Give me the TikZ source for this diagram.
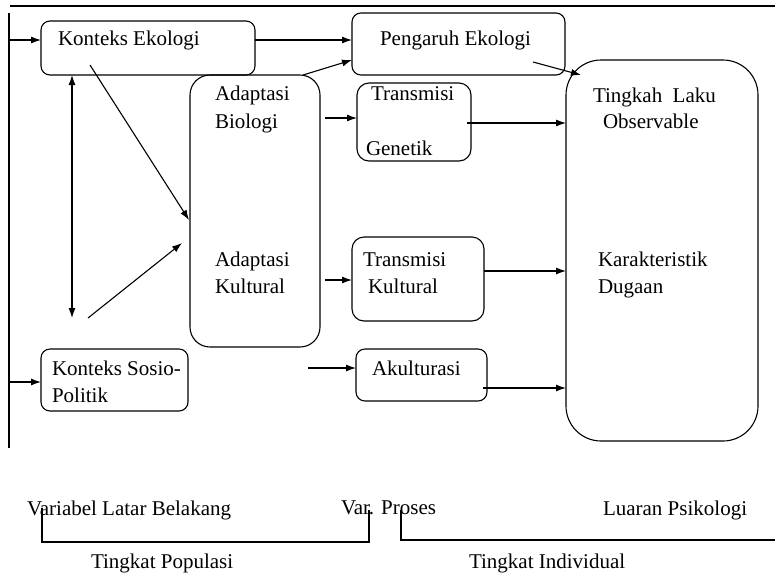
\documentclass[tikz,border=0pt]{standalone}
\usepackage{fontspec}
\setmainfont{Liberation Serif}
\usetikzlibrary{arrows.meta,calc}
\begin{document}
\begin{tikzpicture}[x=1pt,y=-1pt,
  every node/.style={font=\fontsize{21}{28}\selectfont, inner sep=0pt, outer sep=0pt},
  box/.style={draw, line width=1.1pt, rounded corners=#1, minimum width=0pt, minimum height=0pt},
  box/.default=9pt,
  txt/.style={anchor=base west},
  ln/.style={line width=1.1pt},
  arr/.style={line width=1.1pt, -{Latex[length=10pt,width=7pt]}},
  darr/.style={line width=1.1pt, {Latex[length=10pt,width=7pt]}-{Latex[length=10pt,width=7pt]}}]
\useasboundingbox (0,0) rectangle (775,574);
% boxes
\node[box, minimum width=214pt, minimum height=54pt] (ke) at (148,48) {};
\node[box, minimum width=213pt, minimum height=62pt] (pe) at (458.5,44) {};
\node[box=20pt, minimum width=130pt, minimum height=272pt] (ad) at (255,211) {};
\node[box=12pt, minimum width=114pt, minimum height=78pt] (tg) at (414,122) {};
\node[box=12pt, minimum width=132pt, minimum height=84pt] (tk) at (418,279) {};
\node[box, minimum width=131pt, minimum height=52pt] (ak) at (421.5,375) {};
\node[box, minimum width=147pt, minimum height=62pt] (sp) at (114.5,380) {};
\node[box=35pt, minimum width=192pt, minimum height=381pt] (lo) at (662,250.5) {};
% texts
\node[txt] (tke) at (58,45) {Konteks Ekologi};
\node[txt] (tpe) at (380,45) {Pengaruh Ekologi};
\node[txt] (tab1) at (215,100) {Adaptasi};
\node[txt] (tab2) at (215,128) {Biologi};
\node[txt] (tak1) at (215,266) {Adaptasi};
\node[txt] (tak2) at (215,293) {Kultural};
\node[txt] (tg1) at (371,100) {Transmisi};
\node[txt] (tg2) at (366,155) {Genetik};
\node[txt] (ttk1) at (363,266) {Transmisi};
\node[txt] (ttk2) at (368,293) {Kultural};
\node[txt] (tak3) at (372,375) {Akulturasi};
\node[txt] (tsp1) at (52,375) {Konteks Sosio-};
\node[txt] (tsp2) at (52,402) {Politik};
\node[txt] (tlo1) at (593,102) {Tingkah\ \ Laku};
\node[txt] (tlo2) at (603,128) {Observable};
\node[txt] (tkd1) at (598,266) {Karakteristik};
\node[txt] (tkd2) at (598,293) {Dugaan};
\node[txt] (bvl) at (27,515) {Variabel Latar Belakang};
\node[txt] (bvp) at (341,514) {Var. Proses};
\node[txt] (blp) at (603,515) {Luaran Psikologi};
\node[txt] (btp) at (91,568) {Tingkat Populasi};
\node[txt] (bti) at (469,568) {Tingkat Individual};
% frame lines
\coordinate (top1) at (10,6);
\coordinate (top2) at (775,6);
\draw[ln] (top1) -- (top2);
\coordinate (l1) at (9,13);
\coordinate (l2) at (9,448);
\draw[ln] (l1) -- (l2);
% arrows
\coordinate (lk) at (9,40);
\draw[arr] (lk) -- (lk -| ke.west);
\draw[arr] (ke.east |- lk) -- (pe.west |- lk);
\coordinate (ls) at (9,382);
\draw[arr] (ls) -- (ls -| sp.west);
\coordinate (adtr) at (303,75);
\coordinate (pe60) at (352,60);
\draw[arr] (adtr) -- (pe60);
\coordinate (pes) at (533,62);
\coordinate (lotl) at (581,75);
\draw[arr] (pes) -- (lotl);
\coordinate (g1) at (325,118);
\draw[arr] (g1) -- (g1 -| tg.west);
\coordinate (g2) at (467,123);
\draw[arr] (g2) -- (g2 -| lo.west);
\coordinate (k1) at (325,280);
\draw[arr] (k1) -- (k1 -| tk.west);
\coordinate (k2) at (484,271);
\draw[arr] (k2) -- (k2 -| lo.west);
\coordinate (a1) at (308,368);
\draw[arr] (a1) -- (a1 -| ak.west);
\coordinate (a2) at (483,388);
\draw[arr] (a2) -- (a2 -| lo.west);
\coordinate (v1) at (72,75);
\coordinate (v2) at (72,318);
\draw[darr] (v1) -- (v2);
\coordinate (d1) at (90,65);
\coordinate (d2) at (189,220);
\draw[arr] (d1) -- (d2);
\coordinate (e1) at (88,318);
\coordinate (e2) at (182,243);
\draw[arr] (e1) -- (e2);
% brackets
\coordinate (b1) at (42,508);
\coordinate (b2) at (42,542);
\coordinate (b3) at (369,542);
\coordinate (b4) at (369,510);
\draw[ln] (b1) -- (b2) -- (b3) -- (b4);
\coordinate (c1) at (401,510);
\coordinate (c2) at (401,540);
\coordinate (c3) at (775,540);
\draw[ln] (c1) -- (c2) -- (c3);
\end{tikzpicture}
\end{document}
